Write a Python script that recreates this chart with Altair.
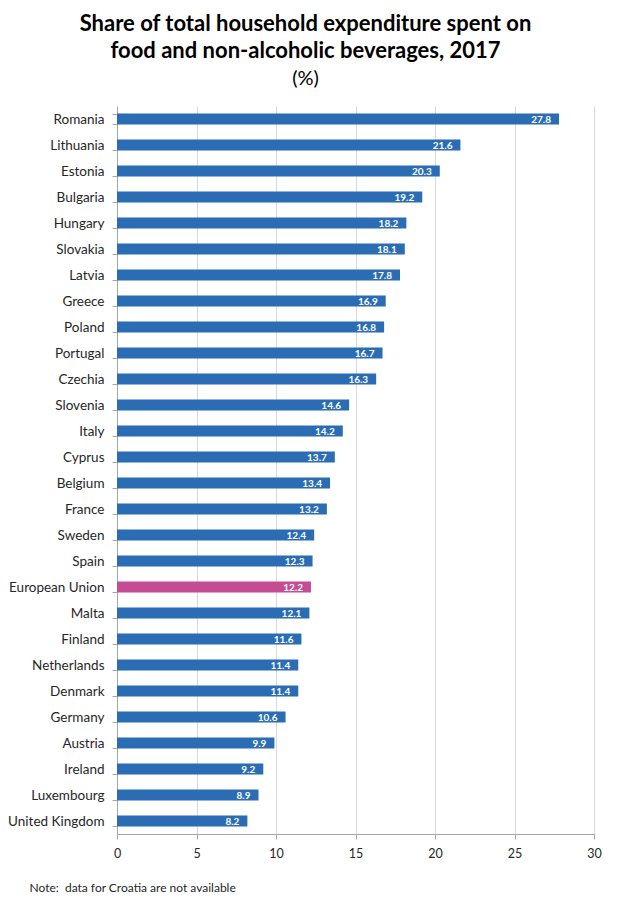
import altair as alt
import pandas as pd

countries = ["Romania", "Lithuania", "Estonia", "Bulgaria", "Hungary", "Slovakia", "Latvia",
             "Greece", "Poland", "Portugal", "Czechia", "Slovenia", "Italy", "Cyprus", "Belgium",
             "France", "Sweden", "Spain", "European Union", "Malta", "Finland", "Netherlands",
             "Denmark", "Germany", "Austria", "Ireland", "Luxembourg", "United Kingdom"]
values = [27.8, 21.6, 20.3, 19.2, 18.2, 18.1, 17.8, 16.9, 16.8, 16.7, 16.3, 14.6, 14.2, 13.7,
          13.4, 13.2, 12.4, 12.3, 12.2, 12.1, 11.6, 11.4, 11.4, 10.6, 9.9, 9.2, 8.9, 8.2]
x_ticks = [0, 5, 10, 15, 20, 25, 30]

df = pd.DataFrame({"country": countries, "value": values})
df["label"] = df["value"].map(lambda v: f"{v:.1f}")
df["group"] = ["EU" if c == "European Union" else "Country" for c in countries]

FONT = "Lato"

y_enc = alt.Y("country:N", sort=countries,
              scale=alt.Scale(paddingInner=0.58, paddingOuter=0.29),
              axis=alt.Axis(title=None, tickBand="extent", tickSize=5, tickColor="#a6a6a6",
                            domainColor="#a6a6a6", labelFont=FONT, labelFontSize=13.5,
                            labelColor="#262626", labelPadding=8, grid=False))

x_enc = alt.X("value:Q", scale=alt.Scale(domain=[0, 30], nice=False),
              axis=alt.Axis(values=x_ticks, title="Note:\u00a0\u00a0data for Croatia are not available",
                            titleFont=FONT, titleFontSize=12, titleFontWeight="normal",
                            titleColor="#262626", titleAnchor="start", titleAlign="left",
                            titleX=-88, titleY=53, titleBaseline="middle",
                            labelFont=FONT, labelFontSize=12.5, labelColor="#262626",
                            labelPadding=8, tickSize=5, tickColor="#a6a6a6",
                            domainColor="#a6a6a6", gridColor="#d9d9d9", grid=True,
                            labelFlush=False))

bars = alt.Chart(df).mark_bar().encode(
    x=x_enc,
    y=y_enc,
    color=alt.Color("group:N", scale=alt.Scale(domain=["Country", "EU"],
                                               range=["#2b6db5", "#c54b93"]), legend=None),
)

labels = alt.Chart(df).mark_text(align="right", baseline="middle", dx=-8, dy=0.5,
                                 font=FONT, fontSize=10, fontWeight="bold",
                                 color="white").encode(
    x="value:Q",
    y=alt.Y("country:N", sort=countries),
    text="label:N",
)

chart = (bars + labels).properties(
    width=477,
    height=728,
    autosize=alt.AutoSizeParams(type="none"),
    padding={"left": 109, "top": 98, "right": 30, "bottom": 66},
    title=alt.TitleParams(
        text=["Share of total household expenditure spent on",
              "food and non-alcoholic beverages, 2017"],
        subtitle="(%)",
        font=FONT, fontSize=22, fontWeight="bold", color="#000000", lineHeight=27,
        subtitleFont=FONT, subtitleFontSize=20, subtitleColor="#000000",
        subtitlePadding=6, anchor="middle", dx=-50, offset=9,
    ),
).configure_view(stroke="transparent")

chart.save("out.html", embed_options={"renderer": "svg", "actions": False})
